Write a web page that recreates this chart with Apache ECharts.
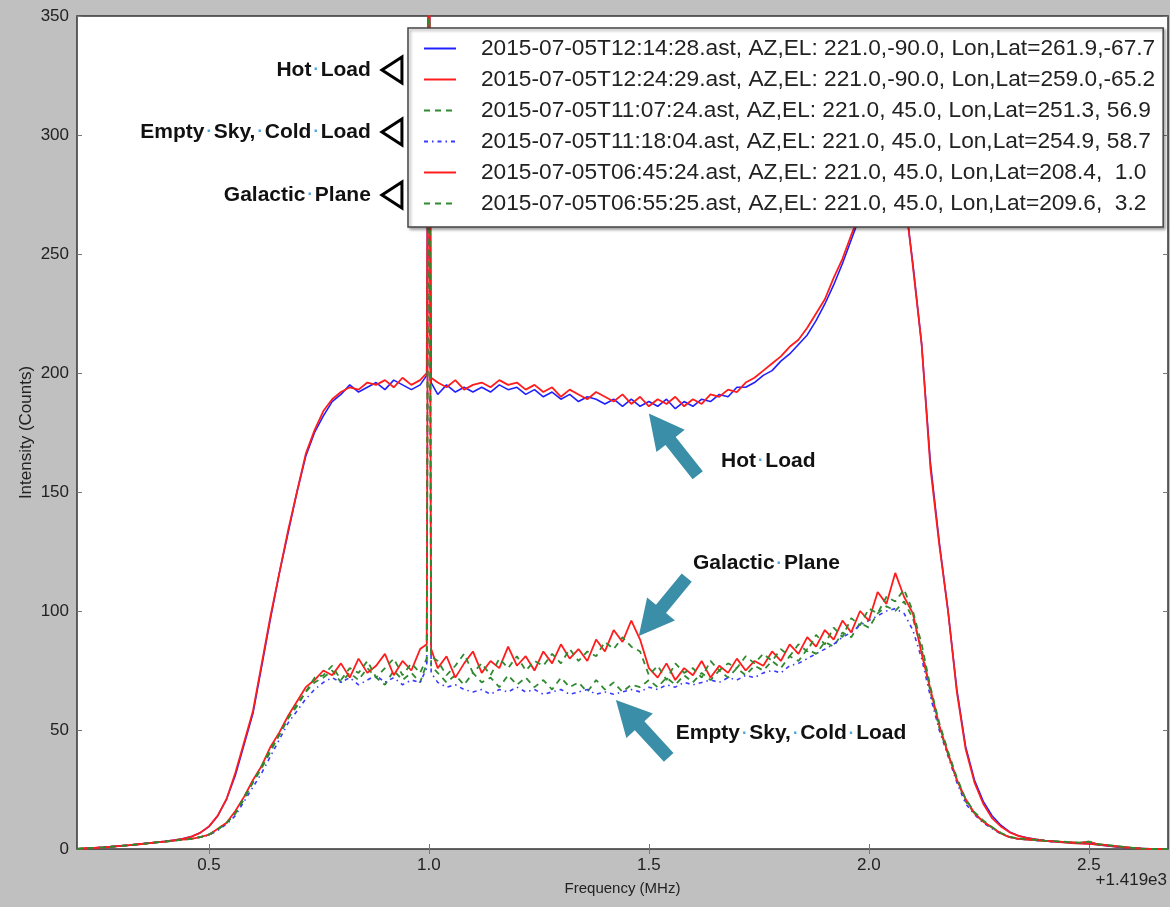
<!DOCTYPE html>
<html>
<head>
<meta charset="utf-8">
<title>Intensity spectrum</title>
<script src="https://cdn.jsdelivr.net/npm/echarts@6.0.0/dist/echarts.min.js"></script>
<style>
  html, body { margin: 0; padding: 0; background: #c0c0c0; }
  #main { width: 1170px; height: 907px; }
</style>
</head>
<body>
<div id="main"></div>
<script>
// frequency offset from 1419 MHz
var freq = [
  0.20, 0.22, 0.24, 0.26, 0.28, 0.30, 0.32, 0.34, 0.36, 0.38,
  0.40, 0.42, 0.44, 0.46, 0.48, 0.50, 0.52, 0.54, 0.56, 0.58,
  0.60, 0.62, 0.64, 0.66, 0.68, 0.70, 0.72, 0.74, 0.76, 0.78,
  0.80, 0.82, 0.84, 0.86, 0.88, 0.90, 0.92, 0.94, 0.96, 0.98,
  0.995, 1.00, 1.005,
  1.02, 1.04, 1.06, 1.08, 1.10, 1.12, 1.14, 1.16, 1.18, 1.20,
  1.22, 1.24, 1.26, 1.28, 1.30, 1.32, 1.34, 1.36, 1.38, 1.40,
  1.42, 1.44, 1.46, 1.48, 1.50, 1.52, 1.54, 1.56, 1.58, 1.60,
  1.62, 1.64, 1.66, 1.68, 1.70, 1.72, 1.74, 1.76, 1.78, 1.80,
  1.82, 1.84, 1.86, 1.88, 1.90, 1.92, 1.94, 1.96, 1.98, 2.00,
  2.02, 2.04, 2.06, 2.08, 2.10, 2.12, 2.14, 2.16, 2.18, 2.20,
  2.22, 2.24, 2.26, 2.28, 2.30, 2.32, 2.34, 2.36, 2.38, 2.40,
  2.42, 2.44, 2.46, 2.48, 2.50, 2.52, 2.54, 2.56, 2.58, 2.60,
  2.62, 2.64, 2.66, 2.68
];

// hot load, 12:14:28
var hot1214 = [
  0, 0.3, 0.5, 0.7, 1.0, 1.3, 1.6, 2.0, 2.4, 2.8,
  3.2, 3.7, 4.3, 5.2, 6.8, 9.4, 14, 21, 31, 44,
  57, 77, 97, 116, 133, 150, 165, 175, 182, 188,
  191, 195, 192, 194, 196, 193, 197, 195, 193, 195,
  199, 415, 196,
  191, 195, 192, 194, 192, 194, 192, 195, 193, 194,
  191, 193, 190, 192, 189, 191, 188, 190, 189, 187,
  189, 186, 189, 186, 188, 186, 189, 185, 188, 186,
  189, 188, 191, 190, 194, 194, 196, 199, 201, 205,
  208, 212, 216, 222, 229, 237, 246, 256, 266, 274,
  282, 289, 291, 276, 246, 212, 162, 129, 100, 67,
  43, 29, 20, 14, 10, 7.2, 5.6, 4.7, 4.1, 3.6,
  3.2, 2.9, 2.6, 2.4, 2.2, 1.8, 1.4, 1.0, 0.7, 0.4,
  0.2, 0, 0, 0
];

// hot load, 12:24:29
var hot1224 = [
  0, 0.3, 0.5, 0.7, 1.0, 1.3, 1.6, 2.0, 2.4, 2.8,
  3.2, 3.7, 4.3, 5.2, 6.8, 9.5, 14, 21, 32, 45,
  58, 78, 98, 116, 134, 150, 166, 176, 184, 189,
  192, 194, 193, 196, 195, 197, 194, 198, 195, 197,
  200, 420, 198,
  196, 194, 197, 193, 195, 196, 194, 197, 195, 196,
  193, 195, 192, 194, 190, 193, 191, 189, 192, 190,
  188, 191, 187, 190, 186, 189, 187, 190, 186, 189,
  187, 191, 190, 193, 192, 196, 198, 201, 204, 207,
  211, 214, 219, 225, 231, 240, 248, 258, 267, 275,
  283, 290, 292, 277, 245, 212, 160, 128, 100, 66,
  42, 28, 19, 13, 9.5, 7, 5.5, 4.6, 4, 3.5,
  3.1, 2.8, 2.5, 2.3, 2.2, 1.8, 1.4, 1.0, 0.7, 0.4,
  0.2, 0, 0, 0
];

// empty sky, 11:07:24
var sky1107 = [
  0, 0.3, 0.5, 0.7, 1.0, 1.3, 1.6, 2.0, 2.4, 2.8,
  3.1, 3.5, 3.9, 4.3, 5.0, 6.0, 8.2, 11, 15, 21,
  28, 34, 41, 48, 55, 60, 66, 70, 72, 75,
  70, 74, 71, 76, 72, 69, 75, 71, 74, 70,
  78, 400, 77,
  74, 70, 73, 69, 74, 70, 72, 68, 73, 69,
  72, 68, 71, 67, 72, 68, 70, 66, 71, 67,
  70, 66, 69, 68, 71, 68, 72, 69, 73, 70,
  74, 71, 75, 72, 76, 73, 77, 75, 79, 76,
  81, 79, 84, 82, 87, 85, 91, 89, 95, 93,
  99, 102, 100, 104, 97, 84, 66, 51, 40, 29,
  20, 15, 11.5, 9, 6.5, 5, 4.3, 4, 3.7, 3.4,
  3.2, 3.0, 2.8, 2.6, 3.0, 2.0, 1.6, 1.2, 0.8, 0.5,
  0.2, 0, 0, 0
];

// empty sky, 11:18:04
var sky1118 = [
  0, 0.3, 0.5, 0.7, 1.0, 1.3, 1.6, 2.0, 2.4, 2.8,
  3.1, 3.5, 3.9, 4.3, 5.0, 5.8, 7.8, 10.5, 14, 20,
  26, 32, 39, 46, 53, 58, 63, 67, 70, 72,
  70, 72, 69, 71, 73, 70, 72, 69, 71, 70,
  76, 400, 74,
  70, 68, 69, 67, 66, 67, 65, 67, 66, 68,
  66, 67, 65, 66, 67, 65, 66, 67, 65, 66,
  65, 66, 67, 66, 68, 67, 69, 68, 70, 69,
  70, 71, 70, 72, 71, 73, 72, 74, 75, 74,
  77, 78, 80, 82, 84, 86, 89, 91, 94, 96,
  98, 100, 101, 99, 92, 80, 64, 50, 39, 28,
  19, 14.5, 11, 8.6, 6.3, 4.9, 4.2, 3.9, 3.6, 3.3,
  3.1, 2.9, 2.7, 2.5, 2.9, 1.9, 1.5, 1.1, 0.7, 0.4,
  0.2, 0, 0, 0
];

// galactic plane, 06:45:24
var gal0645 = [
  0, 0.3, 0.5, 0.7, 1.0, 1.3, 1.6, 2.0, 2.4, 2.8,
  3.1, 3.5, 3.9, 4.3, 5.0, 6.0, 8.5, 11, 16, 22,
  29, 35, 43, 49, 56, 62, 68, 71, 75, 73,
  78, 72, 80, 74, 77, 82, 73, 79, 75, 84,
  86, 410, 84,
  76, 81, 72, 78, 83, 74, 79, 76, 85, 77,
  81, 75, 83, 78, 86, 80, 84, 79, 88, 83,
  92, 87, 96, 88, 76, 72, 78, 71, 76, 73,
  79, 72, 77, 74, 80, 75, 79, 77, 83, 79,
  86, 82, 89, 85, 92, 88, 96, 91, 100, 96,
  108, 103, 116, 106, 99, 82, 67, 52, 40, 29,
  21, 15, 11.5, 9, 6.5, 5, 4.3, 4, 3.7, 3.4,
  3.2, 3.0, 2.8, 2.6, 3.1, 2.0, 1.6, 1.2, 0.8, 0.5,
  0.2, 0, 0, 0
];

// galactic plane, 06:55:25
var gal0655 = [
  0, 0.3, 0.5, 0.7, 1.0, 1.3, 1.6, 2.0, 2.4, 2.8,
  3.1, 3.5, 3.9, 4.3, 5.0, 6.1, 8.3, 11, 15, 22,
  28, 35, 42, 48, 55, 61, 66, 72, 73, 77,
  71, 76, 74, 79, 72, 76, 80, 73, 78, 74,
  80, 405, 81,
  79, 73, 77, 82, 74, 78, 73, 80, 76, 81,
  75, 79, 77, 82, 78, 84, 79, 83, 81, 87,
  84, 89, 85, 83, 73, 77, 71, 78, 74, 76,
  72, 79, 75, 78, 76, 81, 78, 82, 79, 84,
  81, 86, 83, 90, 86, 93, 89, 97, 94, 101,
  99, 106, 104, 109, 100, 86, 68, 53, 41, 30,
  21, 15.5, 12, 9.2, 6.8, 5.2, 4.4, 4.1, 3.8, 3.5,
  3.3, 3.1, 2.9, 2.7, 3.1, 2.1, 1.7, 1.3, 0.9, 0.5,
  0.2, 0, 0, 0
];

var names = [
  '2015-07-05T12:14:28.ast, AZ,EL: 221.0,-90.0, Lon,Lat=261.9,-67.7',
  '2015-07-05T12:24:29.ast, AZ,EL: 221.0,-90.0, Lon,Lat=259.0,-65.2',
  '2015-07-05T11:07:24.ast, AZ,EL: 221.0, 45.0, Lon,Lat=251.3, 56.9',
  '2015-07-05T11:18:04.ast, AZ,EL: 221.0, 45.0, Lon,Lat=254.9, 58.7',
  '2015-07-05T06:45:24.ast, AZ,EL: 221.0, 45.0, Lon,Lat=208.4,  1.0',
  '2015-07-05T06:55:25.ast, AZ,EL: 221.0, 45.0, Lon,Lat=209.6,  3.2'
];
var xTicks = [0.5, 1.0, 1.5, 2.0, 2.5];

// annotations, in data coordinates
var arrowNotes = [
  { text: 'Hot Load', tail: [1.611, 157], tip: [1.50, 183], label: [1.664, 163] },
  { text: 'Galactic Plane', tail: [1.586, 114], tip: [1.477, 89.5], label: [1.60, 120] },
  { text: 'Empty Sky, Cold Load', tail: [1.545, 38.5], tip: [1.425, 62.6], label: [1.561, 48.7] }
];
var markerNotes = [
  { text: 'Hot Load', y: 327.3 },
  { text: 'Empty Sky, Cold Load', y: 301.3 },
  { text: 'Galactic Plane', y: 274.8 }
];

var chartDom = document.getElementById('main');
var myChart = echarts.init(chartDom);
var option;

var labelFont = "'Liberation Sans',Arial,sans-serif";
var looks = [
  { color: '#2020ff', type: 'solid', width: 1.6 },
  { color: '#ff1c1c', type: 'solid', width: 1.8 },
  { color: '#2f8a2f', type: [6, 5], width: 1.8 },
  { color: '#3a3aff', type: [4, 4, 1.5, 4], width: 1.6 },
  { color: '#ff1c1c', type: 'solid', width: 1.8 },
  { color: '#2f8a2f', type: [6, 5], width: 1.8 }
];

function pairs(values) {
  return freq.map(function (f, i) { return [f, values[i]]; });
}

var series = [hot1214, hot1224, sky1107, sky1118, gal0645, gal0655].map(function (vals, i) {
  return {
    name: names[i],
    type: 'line',
    data: pairs(vals),
    symbol: 'none',
    lineStyle: looks[i],
    itemStyle: { color: looks[i].color },
    emphasis: { disabled: true }
  };
});

option = {
  backgroundColor: '#c0c0c0',
  animation: false,
  grid: {
    left: 77, top: 16, right: 2, bottom: 58,
    show: true, backgroundColor: '#fff', borderColor: '#333', borderWidth: 1.5
  },
  legend: {
    orient: 'vertical',
    left: 408, top: 28,
    padding: [9, 8, 12, 15],
    itemGap: 8, itemWidth: 32, itemHeight: 14,
    itemStyle: { opacity: 0 },
    backgroundColor: '#fff', borderColor: '#444', borderWidth: 1.5,
    shadowColor: 'rgba(0,0,0,0.35)', shadowBlur: 3, shadowOffsetX: 2, shadowOffsetY: 2,
    textStyle: { fontSize: 22.7, color: '#222', fontFamily: "'Liberation Sans',Arial,sans-serif", padding: [0, 0, 0, 20] },
    data: names
  },
  xAxis: [
    {
      type: 'value', min: 0.2, max: 2.68,
      name: 'Frequency (MHz)', nameLocation: 'middle', nameGap: 32,
      nameTextStyle: { fontSize: 15, color: '#222', fontFamily: labelFont },
      axisLine: { show: false },
      axisTick: { inside: true, length: 5, customValues: xTicks, lineStyle: { color: '#777' } },
      axisLabel: {
        customValues: xTicks, fontSize: 17, color: '#222', margin: 8, fontFamily: labelFont,
        formatter: function (v) { return v.toFixed(1); }
      },
      splitLine: { show: false }
    },
    {
      type: 'value', position: 'top', min: 0.2, max: 2.68,
      axisLine: { show: false },
      axisTick: { inside: true, length: 5, customValues: xTicks, lineStyle: { color: '#777' } },
      axisLabel: { show: false },
      splitLine: { show: false }
    }
  ],
  yAxis: [
    {
      type: 'value', min: 0, max: 350, interval: 50,
      name: 'Intensity (Counts)', nameLocation: 'middle', nameGap: 42, nameMoveOverlap: false,
      nameTextStyle: { fontSize: 17, color: '#222', fontFamily: labelFont },
      axisLine: { show: false },
      axisTick: { inside: true, length: 5, lineStyle: { color: '#777' } },
      axisLabel: { fontSize: 17, color: '#222', margin: 8, fontFamily: labelFont },
      splitLine: { show: false }
    },
    {
      type: 'value', position: 'right', min: 0, max: 350, interval: 50,
      axisLine: { show: false },
      axisTick: { inside: true, length: 5, lineStyle: { color: '#777' } },
      axisLabel: { show: false },
      splitLine: { show: false }
    }
  ],
  series: series
};

option && myChart.setOption(option);

// annotations: arrows, labels and marker triangles
function px(p) { return myChart.convertToPixel({ xAxisIndex: 0, yAxisIndex: 0 }, p); }
function dotted(text) { return text.split(' ').join('{d|\u00b7}'); }
var noteStyle = {
  fill: '#111', fontSize: 21, fontWeight: 'bold', fontFamily: "'Liberation Sans',Arial,sans-serif",
  rich: { d: { fill: '#4aa3df', fontSize: 16, fontWeight: 'bold', padding: [0, 2] } }
};

var elements = [];
arrowNotes.forEach(function (a) {
  var t = px(a.tail), h = px(a.tip);
  var dx = h[0] - t[0], dy = h[1] - t[1];
  var len = Math.sqrt(dx * dx + dy * dy);
  var ux = dx / len, uy = dy / len, nx = -uy, ny = ux;
  var hl = 35, hw = 18, sw = 6.5;
  var bx = h[0] - ux * hl, by = h[1] - uy * hl;
  elements.push({
    type: 'polygon', z: 20,
    shape: { points: [
      [t[0] + nx * sw, t[1] + ny * sw], [bx + nx * sw, by + ny * sw], [bx + nx * hw, by + ny * hw],
      [h[0], h[1]], [bx - nx * hw, by - ny * hw], [bx - nx * sw, by - ny * sw], [t[0] - nx * sw, t[1] - ny * sw]
    ] },
    style: { fill: '#3b8ea8' }
  });
  var l = px(a.label);
  elements.push({
    type: 'text', z: 21, x: l[0], y: l[1],
    style: Object.assign({ text: dotted(a.text), align: 'left', verticalAlign: 'middle' }, noteStyle)
  });
});

markerNotes.forEach(function (m) {
  var p = px([0.868, m.y]);
  var c = px([0.9159, m.y]);
  elements.push({
    type: 'text', z: 21, x: p[0], y: p[1],
    style: Object.assign({ text: dotted(m.text), align: 'right', verticalAlign: 'middle' }, noteStyle)
  });
  elements.push({
    type: 'polygon', z: 21,
    shape: { points: [[c[0] - 10, c[1]], [c[0] + 10, c[1] - 13], [c[0] + 10, c[1] + 13]] },
    style: { fill: '#fff', stroke: '#000', lineWidth: 3, lineJoin: 'miter' }
  });
});

elements.push({
  type: 'text', right: 3, top: 872, z: 21,
  style: { text: '+1.419e3', fill: '#222', fontSize: 17, fontFamily: labelFont }
});

myChart.setOption({ graphic: elements });
</script>
</body>
</html>
